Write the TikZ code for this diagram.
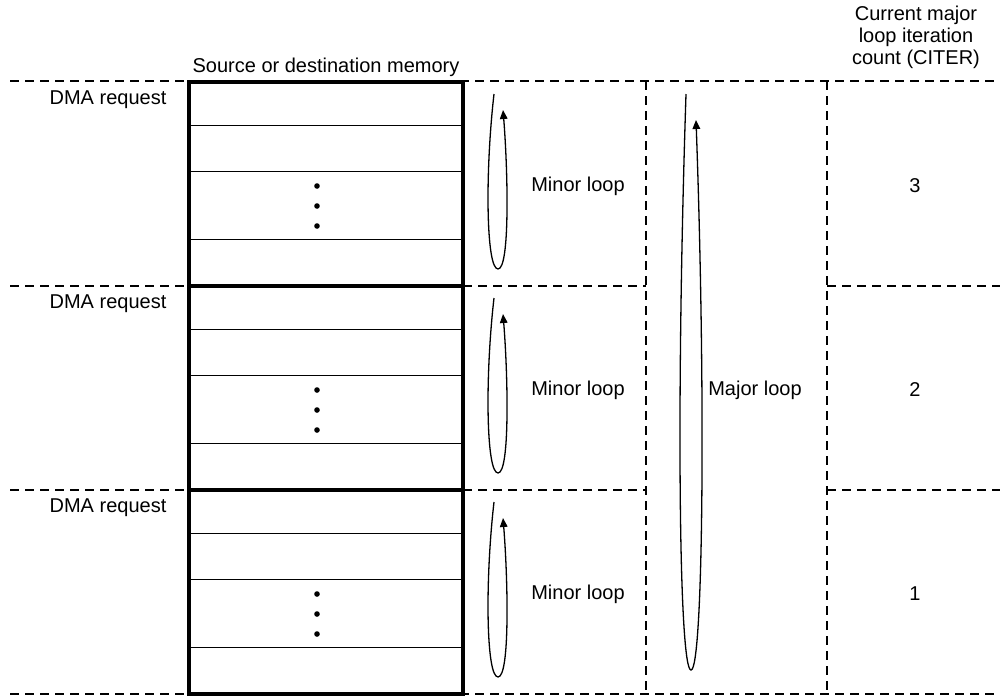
\documentclass[tikz,border=0pt]{standalone}
\usepackage{fontspec}
\setmainfont{Liberation Sans}
\usetikzlibrary{arrows.meta,positioning,calc}
\tikzset{
  sep/.style={dash pattern=on 4.5pt off 3pt,line width=0.6pt},
  blk/.style={draw,line width=1.6pt,minimum width=137pt,minimum height=102pt,inner sep=0pt},
  rowline/.style={line width=0.55pt},
  dot/.style={circle,fill,inner sep=0pt,minimum size=2.8pt},
  lbl/.style={font=\fontsize{10}{11}\selectfont,inner sep=1pt,align=center},
  looparr/.style={line width=0.65pt,-{Triangle[length=4.5pt,width=3.8pt]}}
}
\begin{document}
\begin{tikzpicture}[x=0.5pt,y=-0.5pt]
\useasboundingbox (0,0) rectangle (1000,698);
% headings
\node[lbl] (memlbl) at (326,67) {Source or destination memory};
\node[lbl] (citerhead) at (916,37) {Current major\\loop iteration\\count (CITER)};
% dashed grid
\draw[sep] (10,81) -- (1000,81);
\draw[sep] (10,694) -- (1000,694);
\foreach \y in {286,490} {
  \draw[sep] (10,\y) -- (189,\y);
  \draw[sep] (463,\y) -- (646,\y);
  \draw[sep] (827,\y) -- (1000,\y);
}
\draw[sep] (646,81) -- (646,694);
\draw[sep] (827,81) -- (827,694);
% memory blocks, one per minor loop
\foreach \b/\T/\n in {0/82/3,1/286/2,2/490/1} {
  \node[blk] (blk\b) at (326,\T+102) {};
  \foreach \r in {45,91,159}
    \draw[rowline] ([yshift=-\r*0.5pt]blk\b.north west) -- ([yshift=-\r*0.5pt]blk\b.north east);
  \foreach \d in {104,124,144}
    \node[dot] at (317,\T+\d) {};
  \node[lbl] (dma\b) at (108,\T+18) {DMA request};
  \node[lbl] (minor\b) at (578,\T+104) {Minor loop};
  \node[lbl] (citer\b) at (915,\T+104) {\n};
  \draw[looparr] (494,\T+12) .. controls (485,\T+90) and (486,\T+187) .. (498,\T+187)
    .. controls (510,\T+187) and (508,\T+90) .. (503,\T+28);
}
% major loop
\node[lbl] (majorlbl) at (755,390) {Major loop};
\draw[looparr] (686,94) .. controls (676,400) and (679,670) .. (691,670)
  .. controls (703,670) and (706,400) .. (696,120);
\end{tikzpicture}
\end{document}
